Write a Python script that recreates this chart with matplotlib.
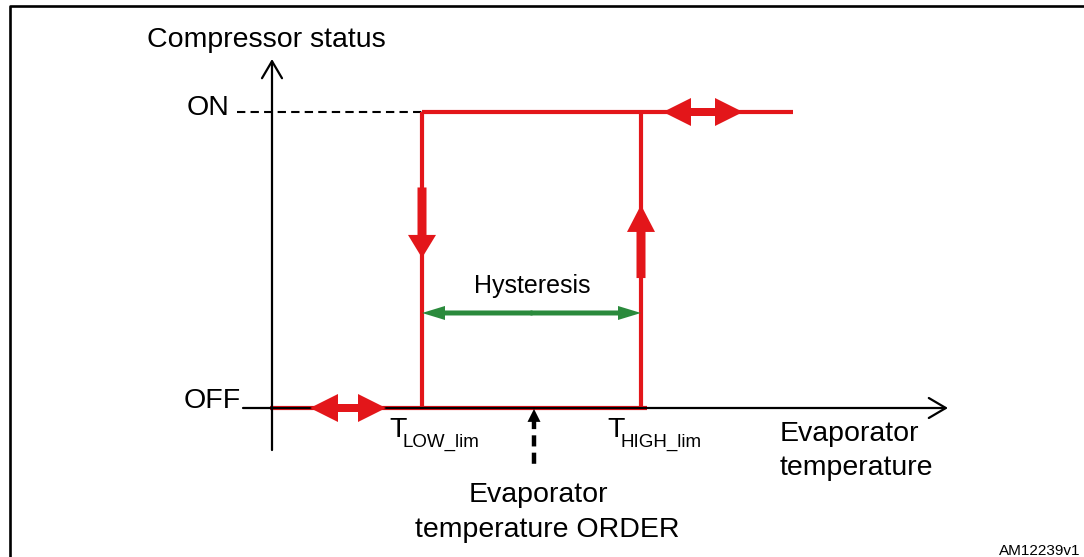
import matplotlib
matplotlib.use('Agg')
import matplotlib.pyplot as plt
import matplotlib.transforms as mtransforms

plt.rcParams['font.family'] = ['Liberation Sans', 'DejaVu Sans']

#%% Diagram values (temperature in arbitrary units, status 0 = OFF, 1 = ON)
status_names = ['OFF', 'ON']
status_vals = [0, 1]

t_origin = 270      # y axis position
t_axis_start = 243
t_axis_end = 948
t_low = 422
t_order = 534
t_high = 641
t_off_end = 647
t_on_end = 793

# hysteresis loop segments
off_t = [t_origin, t_off_end]
rise_t = [t_high, t_high]
on_t = [t_low, t_on_end]
fall_t = [t_low, t_low]
on_guide_t = [237, t_low]

# direction arrows on the loop (tail, tip) in status units
down_arrow = [0.745, 0.507]
up_arrow = [0.439, 0.686]
# double arrows on the flat parts (centre, half length)
top_double = [703, 40]
bottom_double = [348, 38]
hyst_level = 0.321

red = '#e3161a'
green = '#2a8a3c'
W, H = 1084, 557

fig = plt.figure(figsize=(W / 100, H / 100), dpi=100)
ax = fig.add_axes([0, 0, 1, 1])
ax.set_xlim(0, W)
ax.set_ylim(-149 / 296, 408 / 296)
ax.axis('off')

# top-down pixel transform for layout (labels, frame)
lay = mtransforms.Affine2D().scale(1, -1).translate(0, H)

# frame
ax.plot([10, 10, W + 5], [H, 6, 6], color='black', lw=1.9, transform=lay,
        solid_capstyle='projecting')

px = 0.72  # points per pixel, so arrow sizes read in pixels


def filled_arrow(tail, tip, hl, hw, tw, color):
    ax.annotate('', xy=tip, xytext=tail,
                arrowprops=dict(arrowstyle='simple,head_length=%g,head_width=%g,tail_width=%g'
                                % (hl, hw, tw),
                                mutation_scale=px, color=color, lw=0,
                                shrinkA=0, shrinkB=0))


def open_arrow(tail, tip):
    ax.annotate('', xy=tip, xytext=tail,
                arrowprops=dict(arrowstyle='->,head_length=%g,head_width=%g' % (17, 10),
                                mutation_scale=px, color='black', lw=1.6,
                                shrinkA=0, shrinkB=0))


# axes
open_arrow((t_origin + 2, -0.142), (t_origin + 2, 1.179))
open_arrow((t_axis_start, 0), (t_axis_end, 0))

# ON guide
ax.plot(on_guide_t, [1, 1], color='black', lw=1.5, dashes=(4, 2.5))

# loop
ax.plot(off_t, [0, 0], color=red, lw=3, solid_capstyle='butt')
ax.plot(rise_t, [0, 1], color=red, lw=3, solid_capstyle='butt')
ax.plot(on_t, [1, 1], color=red, lw=3, solid_capstyle='butt')
ax.plot(fall_t, [1, 0], color=red, lw=3, solid_capstyle='butt')

# direction arrows
filled_arrow((t_low, down_arrow[0]), (t_low, down_arrow[1]), 23, 28, 9, red)
filled_arrow((t_high, up_arrow[0]), (t_high, up_arrow[1]), 27, 28, 9, red)
for c, h, s in [(top_double[0], top_double[1], 1), (bottom_double[0], bottom_double[1], 0)]:
    filled_arrow((c + 1, s), (c - h, s), 28, 28, 8, red)
    filled_arrow((c - 1, s), (c + h, s), 28, 28, 8, red)

# hysteresis width
mid = (t_low + t_high) / 2
filled_arrow((mid + 1, hyst_level), (t_low, hyst_level), 23, 14, 5, green)
filled_arrow((mid - 1, hyst_level), (t_high, hyst_level), 23, 14, 5, green)

# order marker
ax.plot([t_order, t_order], [-0.034, -0.203], color='black', lw=3.2, dashes=(2.5, 1.4))
filled_arrow((t_order, -0.03), (t_order, -0.003), 13, 13, 4, 'black')

# labels
fs = 20.5
ax.text(147, 40, 'Compressor status', fontsize=fs, va='center', transform=lay)
ax.text(229, 108, status_names[1], fontsize=fs, ha='right', va='center', transform=lay)
ax.text(241, 401, status_names[0], fontsize=fs, ha='right', va='center', transform=lay)
ax.text(532, 293, 'Hysteresis', fontsize=18, ha='center', va='baseline', transform=lay)

for x0, sub in [(389, 'LOW_lim'), (607, 'HIGH_lim')]:
    ax.text(x0, 437, 'T', fontsize=fs, va='baseline', transform=lay)
    ax.text(x0 + 13, 447, sub, fontsize=13.5, va='baseline', transform=lay)

ax.text(780, 441, 'Evaporator', fontsize=fs, va='baseline', transform=lay)
ax.text(780, 475, 'temperature', fontsize=fs, va='baseline', transform=lay)
ax.text(538, 502, 'Evaporator', fontsize=fs, ha='center', va='baseline', transform=lay)
ax.text(547, 537, 'temperature ORDER', fontsize=fs, ha='center', va='baseline', transform=lay)
ax.text(1080, 555, 'AM12239v1', fontsize=11, ha='right', va='baseline', transform=lay)

fig.savefig('out.png', dpi=100)
